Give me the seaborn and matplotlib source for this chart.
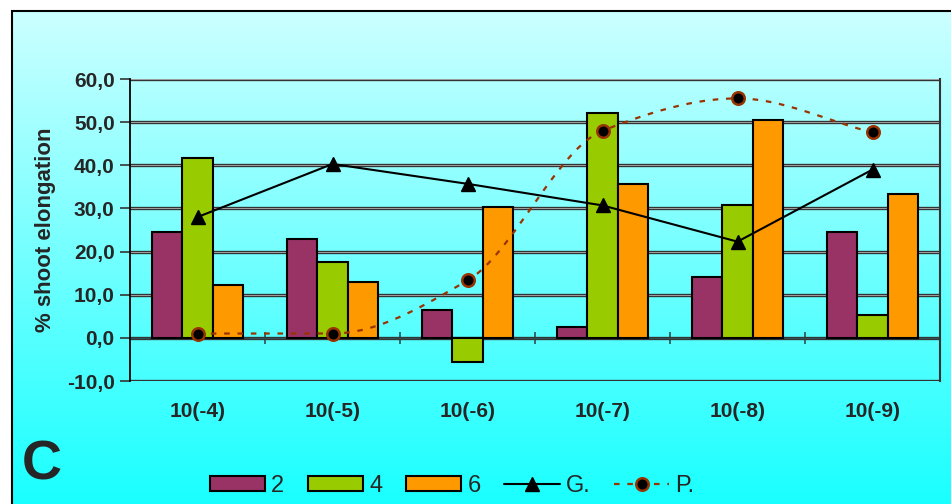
import numpy as np
import pandas as pd
import seaborn as sns
import matplotlib.pyplot as plt
from matplotlib.lines import Line2D
from matplotlib.patches import Patch, Rectangle

concs = ['10(-4)', '10(-5)', '10(-6)', '10(-7)', '10(-8)', '10(-9)']
val_2 = [24.5, 22.8, 6.5, 2.5, 14.0, 24.5]
val_4 = [41.7, 17.5, -5.5, 52.2, 30.7, 5.3]
val_6 = [12.2, 13.0, 30.3, 35.6, 50.5, 33.4]
val_G = [28.0, 40.3, 35.7, 30.7, 22.3, 39.0]
val_P = [1.0, 1.0, 13.3, 48.0, 55.5, 47.6]
yticks = [-10, 0, 10, 20, 30, 40, 50, 60]

df = pd.DataFrame({'conc': concs * 3,
                   'group': ['2'] * 6 + ['4'] * 6 + ['6'] * 6,
                   'val': val_2 + val_4 + val_6})

bar_colors = ['#993366', '#99cc00', '#ff9900']
p_color = '#993300'


def smooth(y, n=40):
    # monotone cubic (Fritsch-Carlson), like Excel's smoothed line
    y = np.asarray(y, float)
    d = np.diff(y)
    m = np.zeros(len(y))
    m[0], m[-1] = d[0], d[-1]
    for i in range(1, len(y) - 1):
        if d[i - 1] * d[i] > 0:
            m[i] = 2 / (1 / d[i - 1] + 1 / d[i])
    xs, ys = [], []
    t = np.linspace(0, 1, n)
    for i in range(len(y) - 1):
        h00 = 2 * t**3 - 3 * t**2 + 1
        h10 = t**3 - 2 * t**2 + t
        h01 = -2 * t**3 + 3 * t**2
        h11 = t**3 - t**2
        xs.append(i + t)
        ys.append(h00 * y[i] + h10 * m[i] + h01 * y[i + 1] + h11 * m[i + 1])
    return np.concatenate(xs), np.concatenate(ys)


sns.set_style('white')
plt.rcParams['font.family'] = ['Liberation Sans', 'DejaVu Sans']

fig = plt.figure(figsize=(9.51, 5.04), dpi=100, facecolor='white')

# gradient background inside the outer frame
bg = fig.add_axes([12 / 951, 0, 1 - 12 / 951, 493 / 504], zorder=-10)
grad = np.linspace(0, 1, 256)[:, None]
top = np.array([0.80, 1.0, 1.0])
bot = np.array([0.10, 1.0, 1.0])
img = top[None, None, :] * (1 - grad[:, :, None]) + bot[None, None, :] * grad[:, :, None]
bg.imshow(img, aspect='auto', extent=[0, 1, 0, 1])
bg.set_axis_off()
fig.add_artist(Rectangle((12 / 951, -0.1), 1.2, 493 / 504 + 0.1,
                         transform=fig.transFigure, fill=False,
                         edgecolor='black', linewidth=1.5))

ax = fig.add_axes([130 / 951, 123 / 504, 810 / 951, 302 / 504])
ax.patch.set_alpha(0)

sns.barplot(data=df, x='conc', y='val', hue='group', palette=bar_colors,
            width=0.667, gap=0, saturation=1, edgecolor='black', linewidth=1.5,
            errorbar=None, legend=False, ax=ax, zorder=3)

xs = np.arange(len(concs))
ax.plot(xs, val_G, color='black', linewidth=1.5, marker='^', markersize=10,
        zorder=5)
sx, sy = smooth(val_P)
ax.plot(sx, sy, color=p_color, linewidth=1.6, linestyle=(0, (2.5, 3.5)), zorder=5)
ax.plot(xs, val_P, linestyle='none', marker='o', markersize=9,
        markerfacecolor='black', markeredgecolor=p_color, markeredgewidth=1.8,
        zorder=6)

ax.set_xlim(-0.5, 5.5)
ax.set_ylim(-10, 60)

# gridlines with the double-line look
ax.hlines(yticks, -0.5, 5.5, colors='#333333', linewidth=2.4, zorder=1)
ax.hlines(yticks, -0.5, 5.5, colors='#a0a0a0', linewidth=0.7, zorder=1)
ax.axhline(0, color='#2f4f4f', linewidth=1.0, zorder=2)

for s in ['top', 'bottom']:
    ax.spines[s].set_visible(False)
ax.spines['left'].set_color('black')
ax.spines['left'].set_linewidth(1.3)
ax.spines['right'].set_color('#333333')
ax.spines['right'].set_linewidth(1.5)

ax.set_yticks(yticks)
ax.set_yticklabels([f'{v:.1f}'.replace('.', ',') for v in yticks],
                   fontsize=15, fontweight='bold')
ax.tick_params(axis='y', direction='out', length=7, width=1.2, color='#333333',
               pad=4, left=True)
ax.set_xticks(xs)
ax.set_xticklabels(concs, fontsize=15, fontweight='bold')
ax.tick_params(axis='x', length=0, pad=15)
ax.set_xlabel('')
ax.set_ylabel('% shoot elongation', fontsize=16, fontweight='bold', labelpad=8)

# category-boundary ticks on the zero line
sec = ax.secondary_xaxis(10 / 70)
sec.set_xticks(xs[:-1] + 0.5)
sec.set_xticklabels([])
sec.tick_params(direction='inout', length=9, width=1.2, color='#2f4f4f')
sec.spines['bottom'].set_visible(False)

fig.text(22 / 951, 24 / 504, 'C', fontsize=40, fontweight='bold',
         ha='left', va='baseline')

handles = [Patch(facecolor=c, edgecolor='black', linewidth=1.5) for c in bar_colors]
handles += [Line2D([], [], color='black', linewidth=1.5, marker='^', markersize=10),
            Line2D([], [], color=p_color, linewidth=1.6, linestyle=(0, (2.5, 3.5)),
                   marker='o', markersize=9, markerfacecolor='black',
                   markeredgecolor=p_color, markeredgewidth=1.8)]
fig.legend(handles, ['2', '4', '6', 'G.', 'P.'], loc='center',
           bbox_to_anchor=(452 / 951, 18 / 504), ncol=5, frameon=False,
           handlelength=2.35, handleheight=0.6, handletextpad=0.25,
           columnspacing=1.0, prop={'family': 'Liberation Sans', 'size': 17})

plt.savefig('out.png', dpi=100, facecolor='white')
